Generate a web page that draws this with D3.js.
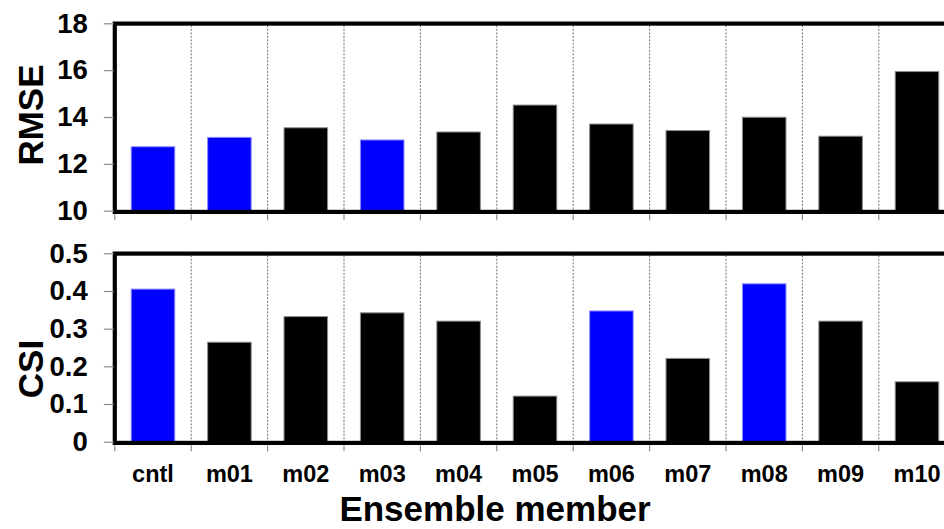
<!DOCTYPE html>
<html>
<head>
<meta charset="utf-8">
<script src="https://cdn.jsdelivr.net/npm/d3@7/dist/d3.min.js"></script>
<style>
  html, body { margin: 0; padding: 0; background: #fff; }
  svg { display: block; }
  text { font-family: "Liberation Sans", Arial, sans-serif; font-weight: bold; fill: #000; }
</style>
</head>
<body>
<svg id="chart" width="944" height="529"></svg>
<script>
// Ensemble members and their verification scores
const members = ["cntl", "m01", "m02", "m03", "m04", "m05", "m06", "m07", "m08", "m09", "m10"];
const rmseValues = [12.73, 13.13, 13.54, 13.02, 13.36, 14.51, 13.70, 13.42, 13.99, 13.18, 15.94];
const csiValues = [0.405, 0.264, 0.332, 0.342, 0.320, 0.121, 0.347, 0.221, 0.419, 0.320, 0.159];
// Members highlighted in blue for each score
const rmseHighlight = ["cntl", "m01", "m03"];
const csiHighlight = ["cntl", "m06", "m08"];
// Axis tick values
const rmseTicks = [10, 12, 14, 16, 18];
const csiTicks = [0, 0.1, 0.2, 0.3, 0.4, 0.5];

const svg = d3.select("#chart");
const BLUE = "#0000ff";

// Shared category scale (plot runs off the right edge of the page)
const plotLeft = 114.8;
const step = 76.4;
const x = d3.scaleBand()
  .domain(members)
  .range([plotLeft, plotLeft + members.length * step])
  .paddingInner(0.43)
  .paddingOuter(0.215);

const boundaries = d3.range(members.length + 1).map(i => x.range()[0] + i * x.step());

function panel(opts) {
  const { values, highlight, domain, ticks, yRange, label, labelY, fmt } = opts;
  const y = d3.scaleLinear().domain(domain).range(yRange);
  const g = svg.append("g");
  const top = yRange[1], bottom = yRange[0];

  // dashed separators between members
  g.selectAll("line.grid")
    .data(boundaries.slice(1))
    .join("line")
    .attr("class", "grid")
    .attr("x1", d => d).attr("x2", d => d)
    .attr("y1", top + 2).attr("y2", bottom)
    .attr("stroke", "#6e6e6e")
    .attr("stroke-width", 1)
    .attr("stroke-dasharray", "2,1.5");

  // bars
  g.selectAll("rect.bar")
    .data(members.map((m, i) => ({ m, v: values[i] })))
    .join("rect")
    .attr("class", "bar")
    .attr("x", d => x(d.m))
    .attr("width", x.bandwidth())
    .attr("y", d => y(d.v))
    .attr("height", d => y(domain[0]) - y(d.v))
    .attr("fill", d => highlight.includes(d.m) ? BLUE : "#000")
    .attr("stroke", d => highlight.includes(d.m) ? "#8a8aff" : "#8c8c8c")
    .attr("stroke-width", 1);

  // thick plot frame
  g.append("rect")
    .attr("x", plotLeft)
    .attr("y", top + 0.3)
    .attr("width", 1000)
    .attr("height", bottom - top + 0.9)
    .attr("fill", "none")
    .attr("stroke", "#000")
    .attr("stroke-width", 4.2);

  // category boundary ticks below the frame
  g.selectAll("line.xtick")
    .data(boundaries)
    .join("line")
    .attr("class", "xtick")
    .attr("x1", d => d).attr("x2", d => d)
    .attr("y1", bottom + 3.5).attr("y2", bottom + 9.5)
    .attr("stroke", "#8c8c8c")
    .attr("stroke-width", 1.2);

  // value axis
  const axis = d3.axisLeft(y)
    .tickValues(ticks)
    .tickSize(10)
    .tickPadding(16)
    .tickFormat(fmt);
  const ga = g.append("g")
    .attr("transform", `translate(${plotLeft - 1},0)`)
    .call(axis);
  ga.select(".domain").remove();
  ga.selectAll(".tick line").attr("stroke", "#8c8c8c").attr("stroke-width", 1.2);
  ga.selectAll(".tick text")
    .attr("font-size", 27.5)
    .attr("font-family", "Liberation Sans, Arial, sans-serif")
    .attr("font-weight", "bold")
    .attr("fill", "#000");

  // axis title
  svg.append("text")
    .attr("transform", `translate(43,${labelY}) rotate(-90)`)
    .attr("text-anchor", "middle")
    .attr("font-size", 35)
    .text(label);

  return y;
}

panel({
  values: rmseValues,
  highlight: rmseHighlight,
  domain: [10, 18],
  ticks: rmseTicks,
  yRange: [210.7, 23.3],
  label: "RMSE",
  labelY: 115,
  fmt: d3.format("d")
});

panel({
  values: csiValues,
  highlight: csiHighlight,
  domain: [0, 0.5],
  ticks: csiTicks,
  yRange: [441.7, 253.3],
  label: "CSI",
  labelY: 369,
  fmt: d => d === 0 ? "0" : d3.format(".1f")(d)
});

// member labels
const xAxis = d3.axisBottom(x).tickSize(0).tickPadding(0);
const gx = svg.append("g")
  .attr("transform", "translate(0,465.3)")
  .call(xAxis);
gx.select(".domain").remove();
gx.selectAll(".tick text")
  .attr("font-size", 23.5)
  .attr("font-family", "Liberation Sans, Arial, sans-serif")
  .attr("font-weight", "bold")
  .attr("fill", "#000");

// x-axis title
svg.append("text")
  .attr("x", 495)
  .attr("y", 521)
  .attr("text-anchor", "middle")
  .attr("font-size", 35)
  .text("Ensemble member");
</script>
</body>
</html>
